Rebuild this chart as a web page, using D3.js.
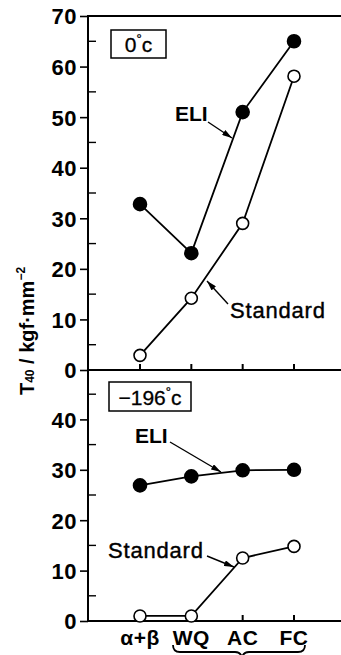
<!DOCTYPE html>
<html>
<head>
<meta charset="utf-8">
<script src="https://cdn.jsdelivr.net/npm/d3@7"></script>
<style>
  html, body { margin: 0; padding: 0; background: #fff; }
  svg { display: block; font-family: "Liberation Sans", Arial, sans-serif; }
</style>
</head>
<body>
<div id="chart"></div>
<script>
// data
const categories = ["α+β", "WQ", "AC", "FC"]
const eliTop = [32.8, 23.1, 51.0, 65.0]      // 0 °C, ELI
const stdTop = [2.9, 14.2, 29.0, 58.1]       // 0 °C, Standard
const eliBottom = [26.9, 28.7, 29.9, 30.0]   // -196 °C, ELI
const stdBottom = [1.0, 1.0, 12.5, 14.8]     // -196 °C, Standard
const topTicks = [0, 10, 20, 30, 40, 50, 60, 70]
const bottomTicks = [0, 10, 20, 30, 40]

// constants
const width = 341
const height = 655
const axisX = 88
const rightX = 345

const svg = d3.select("#chart").append("svg")
              .attr("width", width)
              .attr("height", height)

// scales
const xScale = d3.scalePoint()
                 .domain(categories)
                 .range([140, 294])
const yTop = d3.scaleLinear().domain([0, 70]).range([370, 16])
const yBottom = d3.scaleLinear().domain([0, 50]).range([621, 369])

// arrow marker
svg.append("defs").append("marker")
   .attr("id", "arrow")
   .attr("viewBox", "0 0 10 6")
   .attr("refX", 10)
   .attr("refY", 3)
   .attr("markerWidth", 10)
   .attr("markerHeight", 6)
   .attr("markerUnits", "userSpaceOnUse")
   .attr("orient", "auto")
   .append("path")
   .attr("d", "M0,0 L10,3 L0,6 Z")
   .attr("fill", "#000")

// frame lines
const frame = svg.append("g").attr("stroke", "#000").attr("stroke-width", 2).attr("fill", "none")
frame.append("line").attr("x1", axisX).attr("x2", rightX).attr("y1", yTop(70)).attr("y2", yTop(70))
frame.append("line").attr("x1", axisX).attr("x2", axisX).attr("y1", yTop(70) - 1).attr("y2", yBottom(0) + 1)
frame.append("line").attr("x1", axisX).attr("x2", rightX).attr("y1", yTop(0)).attr("y2", yTop(0))
frame.append("line").attr("x1", axisX).attr("x2", rightX).attr("y1", yBottom(0)).attr("y2", yBottom(0))

// y axes: major ticks outward with labels, minor ticks inward
function drawYAxis(scale, ticks, maxVal) {
    const g = svg.append("g")
    const yAxis = d3.axisLeft(scale)
                    .tickValues(ticks)
                    .tickSize(8)
                    .tickPadding(3)
    g.attr("transform", `translate(${axisX},0)`).call(yAxis)
    g.select(".domain").remove()
    g.selectAll(".tick line").attr("stroke-width", 1.6)
    g.selectAll(".tick text")
     .attr("font-size", 22)
     .attr("font-weight", "bold")
     .attr("letter-spacing", 0.5)
     .attr("font-family", "Liberation Sans, Arial, sans-serif")
     .attr("fill", "#000")
     .attr("dy", "0.36em")

    const minors = d3.range(5, maxVal, 10)
    svg.append("g")
       .selectAll("line")
       .data(minors)
       .join("line")
       .attr("x1", axisX)
       .attr("x2", axisX + 8)
       .attr("y1", d => scale(d))
       .attr("y2", d => scale(d))
       .attr("stroke", "#000")
       .attr("stroke-width", 1.4)
}
drawYAxis(yTop, topTicks, 70)
drawYAxis(yBottom, bottomTicks, 50)

// x ticks pointing up on both zero lines
;[yTop(0), yBottom(0)].forEach(y0 => {
    svg.append("g")
       .selectAll("line")
       .data(categories)
       .join("line")
       .attr("x1", d => xScale(d))
       .attr("x2", d => xScale(d))
       .attr("y1", y0)
       .attr("y2", y0 - 6)
       .attr("stroke", "#000")
       .attr("stroke-width", 2)
})

// series
function drawSeries(values, yScale, filled) {
    const pts = categories.map((c, i) => [xScale(c), yScale(values[i])])
    svg.append("path")
       .attr("d", d3.line()(pts))
       .attr("fill", "none")
       .attr("stroke", "#000")
       .attr("stroke-width", 1.8)
    svg.append("g")
       .selectAll("circle")
       .data(pts)
       .join("circle")
       .attr("cx", d => d[0])
       .attr("cy", d => d[1])
       .attr("r", filled ? 6.5 : 6)
       .attr("fill", filled ? "#000" : "#fff")
       .attr("stroke", "#000")
       .attr("stroke-width", 1.6)
}
drawSeries(stdTop, yTop, false)
drawSeries(eliTop, yTop, true)
drawSeries(stdBottom, yBottom, false)
drawSeries(eliBottom, yBottom, true)

// series labels with arrows
function label(text, x, y, weight, size, arrow) {
    svg.append("text")
       .attr("x", x)
       .attr("y", y)
       .attr("font-size", size)
       .attr("font-weight", weight)
       .attr("letter-spacing", weight === "bold" ? 0 : 0.8)
       .attr("stroke", weight === "bold" ? "none" : "#000")
       .attr("stroke-width", 0.4)
       .text(text)
    svg.append("line")
       .attr("x1", arrow[0]).attr("y1", arrow[1])
       .attr("x2", arrow[2]).attr("y2", arrow[3])
       .attr("stroke", "#000")
       .attr("stroke-width", 1.4)
       .attr("marker-end", "url(#arrow)")
}
label("ELI", 175, 121, "bold", 21, [208, 122, 232, 138])
label("Standard", 230, 318, "normal", 22, [228, 304, 207, 281])
label("ELI", 135, 443, "bold", 21, [170, 442, 221, 472])
label("Standard", 108, 558, "normal", 22, [207, 556, 234, 567])

// temperature boxes
function tempBox(x, y, w, h, main) {
    svg.append("rect")
       .attr("x", x).attr("y", y).attr("width", w).attr("height", h)
       .attr("fill", "#fff").attr("stroke", "#000").attr("stroke-width", 1.5)
    const t = svg.append("text")
                 .attr("x", x + w / 2)
                 .attr("y", y + h - 6)
                 .attr("text-anchor", "middle")
                 .attr("font-size", 21)
                 .attr("stroke", "#000")
                 .attr("stroke-width", 0.3)
    t.append("tspan").text(main)
    t.append("tspan").attr("font-size", 13).attr("dy", -9).text("°")
    t.append("tspan").attr("dy", 9).text("c")
}
tempBox(111, 30, 55, 28, "0")
tempBox(109, 382, 82, 29, "−196")

// x labels
svg.append("g")
   .selectAll("text")
   .data(categories)
   .join("text")
   .attr("x", d => xScale(d))
   .attr("y", 645)
   .attr("text-anchor", "middle")
   .attr("font-size", 21)
   .attr("font-weight", "bold")
   .attr("letter-spacing", 0.5)
   .text(d => d)

// brace under WQ, AC, FC
svg.append("path")
   .attr("d", "M173,645 Q173,652 180,652 L235,652 Q241,652 242,658 Q243,652 249,652 L298,652 Q305,652 305,645")
   .attr("fill", "none")
   .attr("stroke", "#000")
   .attr("stroke-width", 1.8)

// y axis title
const title = svg.append("text")
                 .attr("transform", "translate(34,331) rotate(-90)")
                 .attr("text-anchor", "middle")
                 .attr("font-size", 20)
                 .attr("font-weight", "bold")
title.append("tspan").text("T")
title.append("tspan").attr("font-size", 12).text("40")
title.append("tspan").text(" / kgf·mm")
title.append("tspan").attr("font-size", 12).attr("dy", -9).text("−2")
</script>
</body>
</html>
